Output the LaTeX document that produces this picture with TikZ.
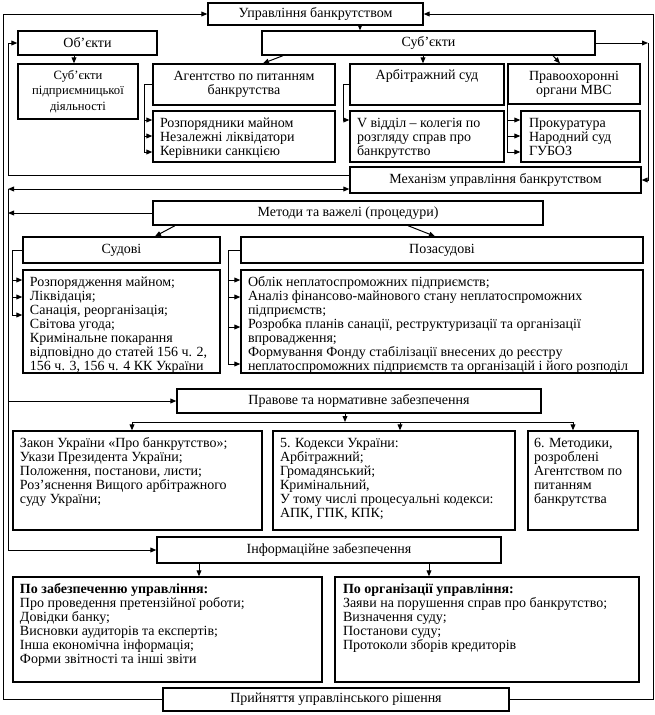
\documentclass[tikz,border=0pt]{standalone}
\usepackage{fontspec}
\setmainfont{Liberation Serif}
\usetikzlibrary{arrows.meta,calc}
\tikzset{
  bx/.style={draw,line width=1pt,inner sep=1pt,align=center,font=\fontsize{10.5}{10.5}\selectfont},
  con/.style={line width=0.75pt},
  arr/.style={con,-{Triangle[length=4.5pt,width=3.6pt]}},
  darr/.style={con,{Triangle[length=4.5pt,width=3.6pt]}-{Triangle[length=4.5pt,width=3.6pt]}}
}
\newcommand\cbox[7][]{%
  \pgfmathsetmacro\bw{(#5-#3)*0.75}%
  \pgfmathsetmacro\bh{(#6-#4)*0.75}%
  \node[bx,minimum width=\bw pt,minimum height=\bh pt,#1] (#2) at ({(#3+#5)/2},{(#4+#6)/2}) {#7};}
\newcommand\lbox[8]{%
  \pgfmathsetmacro\bw{(#4-#2)*0.75}%
  \pgfmathsetmacro\bh{(#5-#3)*0.75}%
  \pgfmathsetmacro\tw{(#4-#2-2*#6)*0.75}%
  \pgfmathsetmacro\th{(#5-#3-2*#7)*0.75}%
  \node[bx,inner sep=0pt,minimum width=\bw pt,minimum height=\bh pt] (#1) at ({(#2+#4)/2},{(#3+#5)/2})
    {\begin{minipage}[c][\th pt][t]{\tw pt}\raggedright\rule{0pt}{9pt}#8\end{minipage}};}
\begin{document}
\begin{tikzpicture}[x=0.75pt,y=-0.75pt]
\fill[white] (0,0) rectangle (655,715);
\useasboundingbox (0,0) rectangle (655,715);
% boxes
\cbox{top}{208}{3}{423}{25}{Управління банкрутством}
\cbox{obj}{18}{31}{157}{55}{Об’єкти}
\cbox{subj}{262}{31}{595}{55}{Суб’єкти}
\cbox[font=\fontsize{9.5}{10.5}\selectfont]{spd}{18}{64}{138}{119}{Суб’єкти\\[1pt]підприємницької\\[1pt]діяльності}
\cbox{ag}{153}{64}{335}{105}{Агентство по питанням\\банкрутства}
\lbox{roz}{153}{111}{335}{162}{7}{4}{Розпорядники майном\\Незалежні ліквідатори\\Керівники санкцією}
\cbox{arb}{350}{64}{504}{105}{Арбітражний суд\\[4pt]}
\lbox{vv}{350}{111}{504}{162}{7}{4}{V відділ – колегія по\\розгляду справ про\\банкрутство}
\cbox{pr}{508}{64}{640}{104}{Правоохоронні\\органи МВС}
\lbox{prok}{521}{111}{640}{162}{8}{4}{Прокуратура\\Народний суд\\ГУБОЗ}
\cbox{mech}{350}{167}{641}{193}{Механізм управління банкрутством}
\cbox{met}{153}{201}{543}{225}{Методи та важелі (процедури)}
\cbox{sud}{23}{237}{220}{263}{Судові}
\cbox{poz}{241}{237}{643}{263}{Позасудові}
\lbox{rozp}{23}{270}{220}{373}{7}{4}{Розпорядження майном;\\Ліквідація;\\Санація, реорганізація;\\Світова угода;\\Кримінальне покарання\\відповідно до статей 156 ч. 2,\\156 ч. 3, 156 ч. 4 КК України}
\lbox{obl}{241}{270}{643}{373}{7}{4}{Облік неплатоспроможних підприємств;\\Аналіз фінансово-майнового стану неплатоспроможних\\підприємств;\\Розробка планів санації, реструктуризації та організації\\впровадження;\\Формування Фонду стабілізації внесених до реєстру\\неплатоспроможних підприємств та організацій і його розподіл}
\cbox{prav}{177}{389}{541}{413}{Правове та нормативне забезпечення}
\lbox{zak}{13}{431}{262}{530}{7}{4}{Закон України «Про банкрутство»;\\Укази Президента України;\\Положення, постанови, листи;\\Роз’яснення Вищого арбітражного\\суду України;}
\lbox{kod}{273}{431}{515}{530}{7}{4}{5. Кодекси України:\\Арбітражний;\\Громадянський;\\Кримінальний,\\У тому числі процесуальні кодекси:\\АПК, ГПК, КПК;}
\lbox{metod}{528}{431}{638}{530}{6}{4}{6. Методики,\\розроблені\\Агентством по\\питанням\\банкрутства}
\cbox{inf}{157}{537}{501}{563}{Інформаційне забезпечення}
\lbox{lz}{13}{577}{322}{682}{7}{4}{\textbf{По забезпеченню управління:}\\Про проведення претензійної  роботи;\\Довідки банку;\\Висновки аудиторів та експертів;\\Інша економічна інформація;\\Форми звітності та інші звіти}
\lbox{ro}{335}{577}{639}{682}{8}{4}{\textbf{По організації управління:}\\Заяви на порушення справ про банкрутство;\\Визначення суду;\\Постанови суду;\\Протоколи зборів кредиторів}
\cbox{prin}{163}{688}{509}{711}{Прийняття управлінського рішення}
% helper coordinates
\coordinate (L0) at (3,0); \coordinate (L1) at (8,0);
\coordinate (R0) at (653,0); \coordinate (R1) at (648,0);
% outer loop
\draw[arr] (prin.west) -| (L0 |- top.west) -- (top.west);
\draw[arr] (prin.east) -| (R0 |- top.east) -- (top.east);
% top level
\coordinate (xa) at (360,0); \draw[arr] (top.south -| xa) -- (subj.north -| xa);
\coordinate (xb) at (74,0); \draw[arr] (obj.south -| xb) -- (spd.north -| xb);
\coordinate (xc1) at (283,0); \coordinate (xc2) at (263,0);
\draw[arr] (subj.south -| xc1) -- (ag.north -| xc2);
\coordinate (xd) at (423,0); \draw[arr] (subj.south -| xd) -- (arb.north -| xd);
\coordinate (xe1) at (553,0); \coordinate (xe2) at (560,0);
\draw[arr] (subj.south -| xe1) -- (pr.north -| xe2);
% brackets upper
\coordinate (xf) at (144,0);
\coordinate (yf1) at (0,120); \coordinate (yf2) at (0,136); \coordinate (yf3) at (0,152);
\draw[con] (ag.west) -| (xf |- yf3);
\foreach \yy in {yf1,yf2,yf3} \draw[arr] (xf |- \yy) -- (roz.west |- \yy);
\coordinate (xg) at (343,0);
\draw[arr] (arb.west) -| (xg |- yf1) -- (vv.west |- yf1);
\draw[con] (pr.south west) -- (pr.south west |- yf3);
\foreach \yy in {yf1,yf2,yf3} \draw[arr] (pr.south west |- \yy) -- (prok.west |- \yy);
% subjects / objects to mechanism
\draw[arr] (subj.east) -- (R1 |- subj.east);
\draw[arr] (R1 |- subj.east) |- (mech.east);
\coordinate (ym1) at (0,175); \coordinate (ym2) at (0,189);
\draw[arr] (mech.west |- ym1) -| (L1 |- obj.west) -- (obj.west);
\draw[darr] (L1 |- ym2) -- (mech.west |- ym2);
\draw[con] (L1 |- ym2) -- (L1 |- inf.west);
\draw[arr] (met.west) -- (L1 |- met.west);
\draw[arr] (L1 |- prav.west) -- (prav.west);
\draw[arr] (L1 |- inf.west) -- (inf.west);
% methods
\coordinate (xi1) at (175,0); \coordinate (xi2) at (155,0);
\draw[arr] (met.south -| xi1) -- (sud.north -| xi2);
\coordinate (xj1) at (408,0); \coordinate (xj2) at (435,0);
\draw[arr] (met.south -| xj1) -- (poz.north -| xj2);
\coordinate (xk) at (12,0);
\coordinate (yk1) at (0,280); \coordinate (yk2) at (0,297); \coordinate (yk3) at (0,315);
\draw[con] (sud.west) -| (xk |- yk3);
\foreach \yy in {yk1,yk2,yk3} \draw[arr] (xk |- \yy) -- (rozp.west |- \yy);
\coordinate (xl) at (228,0);
\coordinate (yl3) at (0,327); \coordinate (yl4) at (0,364);
\draw[con] (poz.west) -| (xl |- yl4);
\foreach \yy in {yk1,yk2,yl3,yl4} \draw[arr] (xl |- \yy) -- (obl.west |- \yy);
% legal support
\coordinate (xm) at (345,0); \coordinate (ym) at (0,422);
\draw[arr] (prav.south -| xm) -- (xm |- ym);
\coordinate (xn1) at (132,0); \coordinate (xn2) at (400,0); \coordinate (xn3) at (573,0);
\draw[con] (xn1 |- ym) -- (xn3 |- ym);
\draw[arr] (xn1 |- ym) -- (zak.north -| xn1);
\draw[arr] (xn2 |- ym) -- (kod.north -| xn2);
\draw[arr] (xn3 |- ym) -- (metod.north -| xn3);
% information support
\coordinate (xo1) at (199,0); \coordinate (xo2) at (429,0);
\draw[arr] (inf.south -| xo1) -- (lz.north -| xo1);
\draw[arr] (inf.south -| xo2) -- (ro.north -| xo2);
\end{tikzpicture}
\end{document}
